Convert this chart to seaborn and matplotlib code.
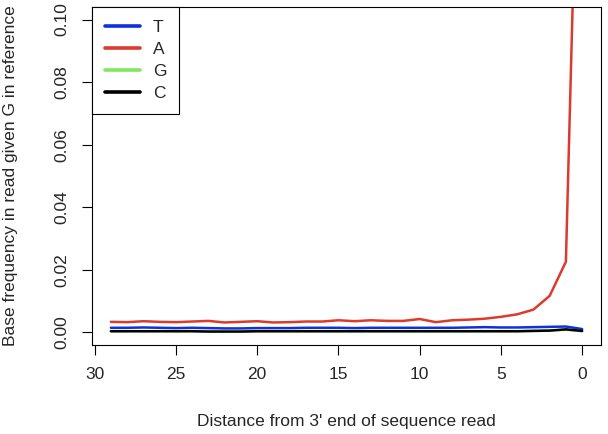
import pandas as pd
import matplotlib
matplotlib.use("Agg")
import matplotlib.pyplot as plt
import seaborn as sns

# Distance from 3' end (0 = last base of read)
distance = list(range(29, -1, -1))

# Base frequencies, from distance 29 down to 0
freq_T = [0.0015, 0.0015, 0.0016, 0.0015, 0.0014, 0.0015, 0.0014, 0.0013, 0.0013, 0.0014,
          0.0014, 0.0014, 0.0015, 0.0015, 0.0015, 0.0014, 0.0015, 0.0015, 0.0015, 0.0015,
          0.0015, 0.0015, 0.0016, 0.0017, 0.0016, 0.0016, 0.0017, 0.0018, 0.0019, 0.0011]
freq_A = [0.0034, 0.0033, 0.0036, 0.0034, 0.0033, 0.0035, 0.0037, 0.0032, 0.0034, 0.0036,
          0.0032, 0.0033, 0.0035, 0.0035, 0.0039, 0.0036, 0.0039, 0.0037, 0.0037, 0.0043,
          0.0033, 0.0039, 0.0041, 0.0044, 0.0050, 0.0058, 0.0073, 0.0117, 0.0226, 0.2200]
freq_G = [0.0004, 0.0004, 0.0004, 0.0004, 0.0004, 0.0004, 0.0003, 0.0003, 0.0003, 0.0004,
          0.0004, 0.0004, 0.0004, 0.0004, 0.0004, 0.0004, 0.0004, 0.0004, 0.0004, 0.0004,
          0.0004, 0.0004, 0.0004, 0.0004, 0.0004, 0.0004, 0.0005, 0.0006, 0.0009, 0.0004]
freq_C = [0.0004, 0.0004, 0.0004, 0.0004, 0.0004, 0.0004, 0.0003, 0.0003, 0.0003, 0.0004,
          0.0004, 0.0004, 0.0004, 0.0004, 0.0004, 0.0004, 0.0004, 0.0004, 0.0004, 0.0004,
          0.0004, 0.0004, 0.0004, 0.0004, 0.0004, 0.0004, 0.0005, 0.0006, 0.0010, 0.0005]

bases = ["T", "A", "G", "C"]
colors = {"T": "#1030e0", "A": "#dc3a2e", "G": "#80e860", "C": "#000000"}

df = pd.concat([
    pd.DataFrame({"distance": distance, "freq": vals, "base": b})
    for b, vals in zip(bases, [freq_T, freq_A, freq_G, freq_C])
])

sns.set_theme(style="ticks")
plt.rcParams["font.family"] = ["Liberation Sans", "DejaVu Sans"]

fig = plt.figure(figsize=(6.08, 4.34), dpi=100)
ax = fig.add_axes([92 / 608, 1 - 345 / 434, 509 / 608, 338 / 434])

sns.lineplot(data=df, x="distance", y="freq", hue="base", hue_order=bases,
             palette=colors, linewidth=1.8, ax=ax, legend=False)

ax.set_xlim(30.16, -1.16)
ax.set_ylim(-0.004, 0.104)
ax.set_xticks([30, 25, 20, 15, 10, 5, 0])
ax.set_yticks([0.00, 0.02, 0.04, 0.06, 0.08, 0.10])
ax.set_yticklabels(["0.00", "0.02", "0.04", "0.06", "0.08", "0.10"], rotation=90, va="center")

for s in ax.spines.values():
    s.set_visible(True)
    s.set_linewidth(0.8)
    s.set_color("black")
ax.tick_params(axis="both", length=7, width=0.8, labelsize=12.5, color="black")
ax.tick_params(axis="x", pad=9)
ax.tick_params(axis="y", pad=9)

ax.set_xlabel("Distance from 3' end of sequence read", fontsize=12.5)
ax.set_ylabel("Base frequency in read given G in reference", fontsize=12.5)
ax.xaxis.set_label_coords(0.5, -0.205)
ax.yaxis.set_label_coords(-0.145, 0.5)

handles = [plt.Line2D([], [], color=colors[b], linewidth=2.6) for b in bases]
leg = ax.legend(handles, bases, loc="upper left", bbox_to_anchor=(0, 1), borderaxespad=0,
                fancybox=False, framealpha=1, edgecolor="black", fontsize=12.5,
                handlelength=2.0, handletextpad=0.75, labelspacing=0.4, borderpad=0.75)
leg.get_frame().set_linewidth(0.8)

fig.savefig("out.png", dpi=100)
